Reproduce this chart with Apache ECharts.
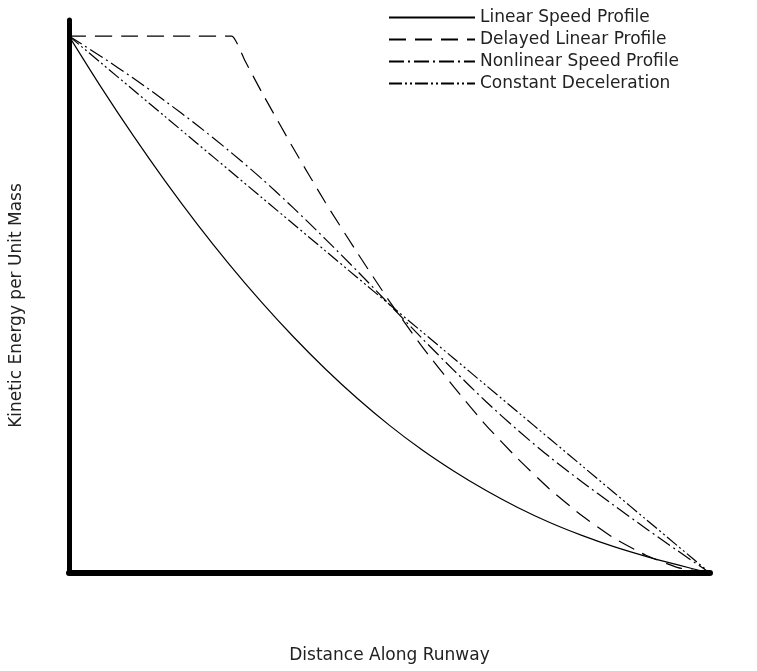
<!DOCTYPE html>
<html>
<head>
<meta charset="utf-8">
<script src="https://cdn.jsdelivr.net/npm/echarts@6/dist/echarts.min.js"></script>
<style>html,body{margin:0;padding:0;background:#fff}#c{width:757px;height:671px}</style>
</head>
<body>
<div id="c"></div>
<script>
// Distance along runway (normalised 0..100)
const distance = [0, 5, 10, 15, 20, 25, 30, 35, 40, 45, 50, 55, 60, 65, 70, 75, 80, 85, 90, 95, 100];
const delayedDistance = [0, 10, 20, 25.4, 27.5, 30, 35, 40, 45, 50, 55, 60, 65, 70, 75, 80, 85, 90, 95, 100];
// Kinetic energy per unit mass (normalised 0..100)
const linearSpeed = [100, 90.5, 81.5, 73, 65, 57.5, 50.5, 44, 38, 32.5, 27.5, 23, 19, 15.4, 12.2, 9.4, 7, 4.9, 3.1, 1.5, 0];
const delayedLinear = [100, 100, 100, 100, 95.3, 89.7, 79.1, 69, 59.6, 50.6, 42.3, 34.7, 27.6, 21.3, 15.6, 10.7, 6.5, 3.3, 1, 0];
const nonlinearSpeed = [100, 96.2, 92.2, 87.9, 83.4, 78.6, 73.5, 68, 62.2, 56.2, 50, 43.8, 37.8, 32, 26.6, 21.6, 17, 12.6, 8.3, 4.1, 0];
const constantDecel = [100, 95, 90, 85, 80, 75, 70, 65, 60, 55, 50, 45, 40, 35, 30, 25, 20, 15, 10, 5, 0];

const seriesNames = ['Linear Speed Profile', 'Delayed Linear Profile', 'Nonlinear Speed Profile', 'Constant Deceleration'];
const seriesX = [distance, delayedDistance, distance, distance];
const seriesY = [linearSpeed, delayedLinear, nonlinearSpeed, constantDecel];
const dashTypes = ['solid', [17, 9], [15, 4, 2, 4], [13, 3, 2, 3, 2, 3]];

const chart = echarts.init(document.getElementById('c'));
const FONT = 'DejaVu Sans';
chart.setOption({
  animation: false,
  backgroundColor: '#fff',
  textStyle: { fontFamily: FONT },
  grid: { left: 66, right: 47, top: 20, bottom: 98 },
  legend: {
    orient: 'vertical',
    left: 383,
    top: 4,
    itemWidth: 86,
    itemHeight: 14,
    itemGap: 5,
    itemStyle: { opacity: 0 },
    textStyle: { fontSize: 17, color: '#222', fontFamily: FONT },
    data: seriesNames.map(n => ({ name: n }))
  },
  xAxis: {
    type: 'value', min: 0, max: 100,
    name: 'Distance Along Runway', nameLocation: 'middle', nameGap: 74,
    nameTextStyle: { fontSize: 17, color: '#222' },
    axisLine: { show: true, onZero: false, lineStyle: { color: '#000', width: 6 } },
    axisTick: { show: false }, axisLabel: { show: false }, splitLine: { show: false }
  },
  yAxis: {
    type: 'value', min: 0, max: 103,
    name: 'Kinetic Energy per Unit Mass', nameLocation: 'middle', nameGap: 44,
    nameTextStyle: { fontSize: 17, color: '#222', padding: [0, 18, 0, 0] },
    axisLine: { show: true, onZero: false, lineStyle: { color: '#000', width: 5 } },
    axisTick: { show: false }, axisLabel: { show: false }, splitLine: { show: false }
  },
  series: seriesNames.map((n, i) => ({
    name: n,
    type: 'line',
    smooth: i === 1 ? 0.15 : 0.3,
    symbol: 'none',
    data: seriesX[i].map((d, j) => [d, seriesY[i][j]]),
    lineStyle: { color: '#000', width: 1.2, type: dashTypes[i] },
    itemStyle: { color: '#000' }
  }))
});
</script>
</body>
</html>
